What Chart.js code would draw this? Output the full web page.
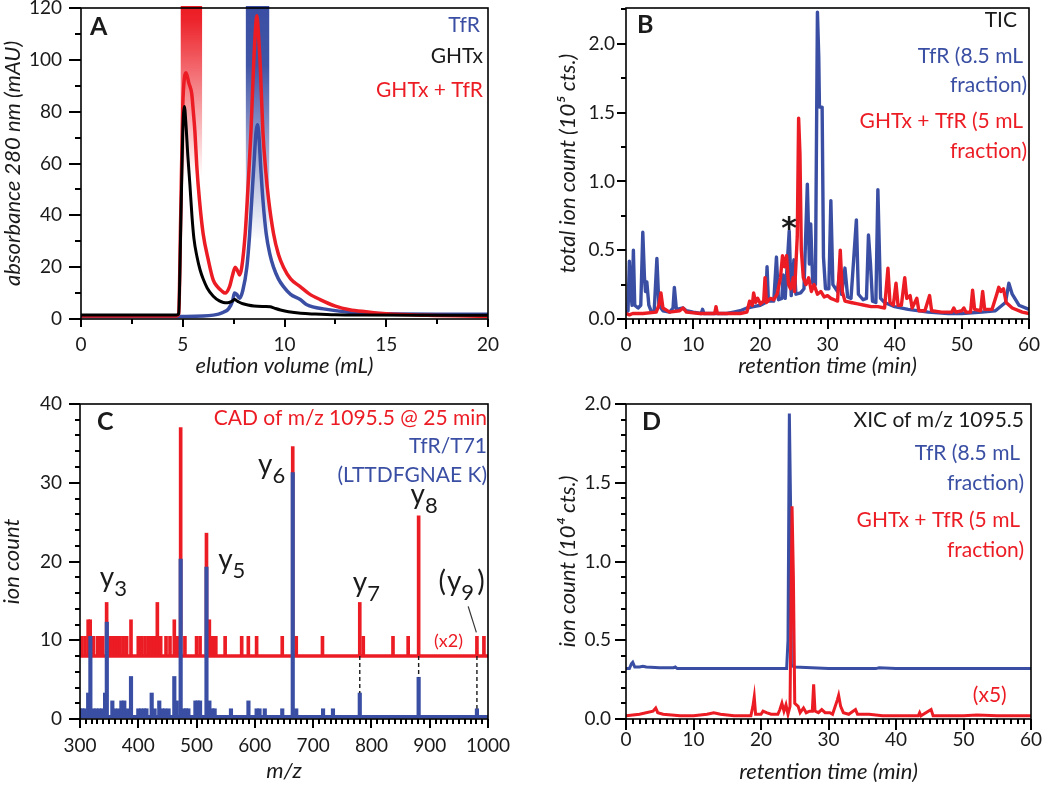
<!DOCTYPE html>
<html>
<head>
<meta charset="utf-8">
<script src="https://cdn.jsdelivr.net/npm/chart.js@4.4.0/dist/chart.umd.min.js"></script>
<style>
  body { margin: 0; background: #fff; }
  #wrap { position: relative; width: 1050px; height: 785px; overflow: hidden; }
  canvas { position: absolute; }
</style>
</head>
<body>
<div id="wrap">
  <canvas id="chartA" width="520" height="390" style="left:0;top:0"></canvas>
  <canvas id="chartB" width="530" height="390" style="left:520px;top:0"></canvas>
  <canvas id="chartC" width="520" height="395" style="left:0;top:390px"></canvas>
  <canvas id="chartD" width="530" height="395" style="left:520px;top:390px"></canvas>
</div>
<script>
// ---- panel A : size exclusion chromatograms ----
var ghtxVol = [0, 4.7, 4.8, 4.9, 5.0, 5.08, 5.15, 5.25, 5.35, 5.45, 5.55, 5.7, 5.85, 6.0, 6.2, 6.5, 6.8, 7.0, 7.2, 7.4, 7.55, 7.7, 7.9, 8.2, 8.5, 9.0, 9.3, 9.5, 9.8, 10.2, 10.8, 11.5, 12.5, 14, 20];
var ghtxAbs = [1.5, 1.5, 2, 35, 72, 82, 76, 63, 52, 40, 31, 24, 19, 15.5, 12, 8.8, 7, 6.4, 6.3, 6.8, 7.5, 6.8, 6, 5.4, 5, 4.8, 4.7, 4.2, 3.5, 2.8, 2.2, 1.9, 1.6, 1.5, 1.4];
var complexVol = [0, 4.7, 4.8, 4.9, 5.0, 5.08, 5.16, 5.3, 5.44, 5.52, 5.6, 5.69, 5.82, 6.0, 6.25, 6.5, 6.7, 6.92, 7.08, 7.3, 7.45, 7.58, 7.7, 7.79, 7.9, 8.07, 8.2, 8.35, 8.48, 8.56, 8.64, 8.72, 8.81, 8.94, 9.08, 9.22, 9.46, 9.7, 9.95, 10.3, 10.77, 11.2, 11.75, 12.5, 13.2, 14, 15, 17, 20];
var complexAbs = [1.2, 1.2, 2, 40, 82, 93, 95, 91, 87, 80, 72, 59, 46, 33, 23, 15, 12.5, 10.8, 10, 12.5, 17, 20, 18.5, 17, 20, 33, 50, 72, 97.5, 110, 117, 110, 97.5, 72, 57, 46, 33, 25, 20, 15.5, 12.5, 9.8, 7.5, 5, 3.6, 2.8, 2, 1.4, 1];
var tfrVol = [0, 4, 6, 6.5, 6.76, 7.0, 7.25, 7.45, 7.54, 7.65, 7.79, 7.95, 8.15, 8.28, 8.39, 8.5, 8.6, 8.67, 8.75, 8.83, 8.94, 9.1, 9.28, 9.46, 9.7, 9.95, 10.3, 10.77, 11.1, 12, 13.5, 15, 20];
var tfrAbs = [1, 1, 1.2, 1.5, 1.9, 2.6, 3.9, 7, 10, 9.5, 8, 11, 20, 32, 46, 60, 72, 75, 70, 58.8, 46, 33, 25, 20, 15.5, 12.5, 9.5, 7.5, 5.5, 3.8, 2.4, 2, 1.8];
var bandStart = [4.9, 8.1];
var bandEnd = [5.95, 9.25];

// ---- panel B : total ion chromatograms ----
var tfrTicTime = [0, 0.3, 0.5, 0.7, 0.9, 1.1, 1.3, 1.8, 2.2, 2.5, 2.75, 2.9, 3.1, 3.4, 3.8, 4.2, 4.6, 4.9, 5.5, 6.5, 7.0, 7.2, 7.5, 8.5, 9, 10, 11.2, 11.4, 11.6, 13, 15, 16, 17, 18, 19, 20, 20.8, 21.0, 21.2, 22, 22.4, 22.7, 23.2, 23.4, 23.7, 24.3, 24.6, 25.0, 25.3, 26.0, 26.5, 27.0, 27.3, 27.5, 27.8, 28.2, 28.5, 28.7, 28.8, 29.2, 29.4, 29.7, 30.2, 30.5, 30.8, 31.5, 31.8, 32.1, 32.6, 33.0, 33.5, 34.3, 34.6, 35.3, 35.8, 36.1, 36.4, 36.7, 37.2, 37.5, 37.9, 38.5, 40, 42, 45, 48, 50, 53, 55, 56.5, 57, 57.5, 58.5, 60];
var tfrTicCounts = [0.05, 0.06, 0.42, 0.2, 0.1, 0.5, 0.1, 0.08, 0.1, 0.63, 0.3, 0.2, 0.27, 0.1, 0.05, 0.06, 0.44, 0.1, 0.06, 0.05, 0.08, 0.23, 0.07, 0.08, 0.06, 0.05, 0.04, 0.07, 0.04, 0.04, 0.04, 0.05, 0.06, 0.08, 0.09, 0.1, 0.12, 0.38, 0.13, 0.13, 0.45, 0.14, 0.15, 0.32, 0.15, 0.64, 0.17, 0.43, 0.18, 0.19, 0.22, 0.98, 0.4, 0.69, 0.26, 0.25, 2.23, 1.9, 1.54, 1.54, 0.45, 0.22, 0.22, 0.86, 0.25, 0.2, 0.34, 0.18, 0.37, 0.16, 0.15, 0.72, 0.18, 0.14, 0.15, 0.61, 0.4, 0.13, 0.12, 0.94, 0.15, 0.12, 0.09, 0.07, 0.05, 0.04, 0.04, 0.05, 0.06, 0.12, 0.26, 0.18, 0.1, 0.07];
var complexTicTime = [0, 0.5, 1, 2.5, 4.5, 4.9, 5.2, 5.5, 6.5, 8.0, 8.5, 9, 11, 13.2, 13.4, 13.6, 15, 17, 18, 18.4, 18.8, 19.0, 19.3, 19.6, 20, 20.5, 20.7, 20.9, 21.5, 22, 22.5, 23.0, 23.3, 23.6, 23.9, 24.2, 24.5, 24.9, 25.1, 25.5, 25.7, 25.9, 26.1, 26.4, 26.8, 27.2, 27.6, 28, 28.5, 29, 29.5, 30, 30.5, 31, 31.5, 31.9, 32.2, 32.6, 33.5, 34.5, 35.5, 36.5, 37.5, 38.5, 39.0, 39.3, 39.8, 40.2, 40.5, 41, 41.5, 41.8, 42.3, 42.6, 43.3, 43.6, 44.5, 45.2, 45.5, 47, 48.5, 48.8, 49.1, 50, 50.3, 50.6, 51.3, 51.6, 51.9, 52.8, 53.1, 53.4, 54.5, 55.2, 55.5, 55.8, 56.2, 56.6, 57.5, 59, 60];
var complexTicCounts = [0.04, 0.03, 0.04, 0.04, 0.05, 0.1, 0.19, 0.08, 0.05, 0.06, 0.08, 0.05, 0.04, 0.04, 0.09, 0.04, 0.04, 0.04, 0.05, 0.13, 0.1, 0.19, 0.12, 0.15, 0.11, 0.13, 0.3, 0.12, 0.15, 0.14, 0.18, 0.3, 0.46, 0.38, 0.46, 0.25, 0.22, 0.3, 0.2, 0.6, 1.46, 1.2, 0.5, 0.3, 0.25, 0.3, 0.2, 0.25, 0.18, 0.2, 0.16, 0.17, 0.15, 0.14, 0.13, 0.5, 0.2, 0.13, 0.12, 0.11, 0.1, 0.09, 0.09, 0.08, 0.37, 0.12, 0.1, 0.26, 0.1, 0.1, 0.3, 0.15, 0.17, 0.08, 0.15, 0.06, 0.06, 0.17, 0.06, 0.05, 0.05, 0.08, 0.05, 0.06, 0.08, 0.05, 0.05, 0.21, 0.07, 0.06, 0.2, 0.07, 0.07, 0.18, 0.23, 0.2, 0.22, 0.12, 0.08, 0.05, 0.04];
var starTime = 24.3, starCount = 0.585;

// ---- panel C : CAD spectrum (red offset, x2) vs TfR/T71 ----
var redBase = 8, blueBase = 0.3;
var cadMz = [303, 308.6, 314, 317.5, 323, 330, 334, 339, 345.7, 351.5, 356, 360, 364, 368.6, 374, 380, 387.5, 400, 405.8, 411.5, 417, 423, 427.5, 432.7, 438.4, 447.6, 454.4, 461.8, 467, 472.7, 480, 500, 506, 517, 521.9, 527.7, 533, 549, 577.4, 588.8, 603, 647, 665, 671, 716, 780, 786, 837, 863, 881, 981, 993];
var cadCount = [10.5, 10.5, 12.6, 12.6, 10.5, 10.5, 10.5, 10.5, 14.8, 10.5, 10.5, 10.5, 10.5, 10.5, 10.5, 10.5, 12.6, 10.5, 10.5, 10.5, 10.5, 10.5, 10.5, 14.8, 10.5, 10.5, 10.5, 12.6, 10.5, 37, 10.5, 10.5, 10.5, 23.6, 12.6, 10.5, 10.5, 10.5, 10.5, 10.5, 10.5, 10.5, 34.6, 10.5, 10.5, 14.8, 10.5, 10.5, 10.5, 25.8, 10.5, 10.5];
var t71Mz = [300, 304, 308, 314, 317.8, 323, 328, 333, 338, 343, 346, 355.5, 360, 366, 371, 376, 381, 387.5, 400, 405, 410, 414, 423, 428, 436, 441, 446, 452, 461.8, 466, 472.7, 478, 482, 486, 498, 502, 506, 517, 522, 527, 531, 559, 589, 603, 608, 617, 647, 665, 671, 717, 734, 780, 881, 981];
var t71Count = [1.3, 1.3, 1.3, 3.3, 10.5, 1.3, 1.3, 1.3, 1.3, 3.3, 12.3, 2.3, 1.3, 1.3, 2.3, 2.3, 1.3, 5.4, 1.3, 1.3, 1.3, 1.3, 3.3, 1.3, 2.3, 1.3, 1.3, 1.3, 5.4, 2.3, 20.3, 1.3, 1.3, 1.3, 2.3, 2.3, 2.3, 19.3, 2.3, 1.3, 1.3, 1.3, 2.3, 1.3, 1.3, 1.3, 1.3, 31.3, 1.3, 1.3, 1.3, 3.3, 5.3, 1.3];
var matchMz = [780, 881, 981];
var ionSub = ['3', '5', '6', '7', '8', '9'];
var ionMz = [334, 537, 605.5, 768, 867, 915];
var ionCount = [16.8, 19.0, 31.1, 16.1, 27.3, 16.3];

// ---- panel D : XIC of m/z 1095.5 ----
var tfrXicTime = [0, 0.5, 0.8, 1.0, 1.3, 2, 2.5, 3, 5, 7, 7.3, 7.6, 15, 20, 23.8, 24.0, 24.2, 24.4, 24.5, 25, 30, 37, 37.5, 40, 50, 57, 61];
var tfrXicCounts = [0.32, 0.32, 0.35, 0.36, 0.33, 0.33, 0.335, 0.33, 0.325, 0.325, 0.33, 0.32, 0.32, 0.32, 0.32, 0.5, 1.94, 1.3, 0.34, 0.33, 0.32, 0.32, 0.325, 0.32, 0.32, 0.32, 0.32];
var complexXicTime = [0, 2, 4, 4.4, 4.7, 5.5, 8, 10, 12, 13, 14, 16, 18.5, 18.8, 19.0, 19.2, 20, 20.3, 20.8, 21.5, 22.5, 22.8, 23.1, 23.4, 23.7, 24.0, 24.3, 24.6, 24.8, 25.0, 25.5, 25.8, 26.3, 26.7, 27.2, 27.6, 27.8, 28.0, 28.5, 29.0, 29.5, 30.2, 30.6, 31.3, 31.5, 31.8, 32.2, 33, 34, 34.3, 35, 36, 38, 40, 43.3, 43.5, 43.7, 45.2, 45.5, 50, 52, 55, 60];
var complexXicCounts = [0.02, 0.03, 0.05, 0.07, 0.04, 0.03, 0.02, 0.02, 0.03, 0.04, 0.03, 0.02, 0.02, 0.08, 0.14, 0.03, 0.03, 0.05, 0.04, 0.03, 0.03, 0.06, 0.1, 0.05, 0.09, 0.03, 0.08, 1.35, 0.9, 0.1, 0.08, 0.04, 0.07, 0.04, 0.05, 0.05, 0.22, 0.05, 0.04, 0.06, 0.04, 0.04, 0.03, 0.12, 0.15, 0.08, 0.04, 0.03, 0.06, 0.03, 0.03, 0.03, 0.02, 0.02, 0.02, 0.04, 0.02, 0.06, 0.02, 0.02, 0.025, 0.02, 0.02];

var BLUE = '#3a4fa3', RED = '#ec1c24', INK = '#1a1a1a';
var FONT = 'Lato, "DejaVu Sans", sans-serif';
Chart.defaults.font.family = FONT;
Chart.defaults.color = INK;
Chart.defaults.animation = false;

function pts(xs, ys) {
  return xs.map(function(x, i) { return { x: x, y: ys[i] }; });
}
function onStep(v, step) {
  return Math.abs(v / step - Math.round(v / step)) < 1e-6;
}
function stepValues(min, max, step) {
  var out = [];
  for (var i = 0; min + i * step <= max + 1e-9; i++) out.push(min + i * step);
  return out;
}

// labels and titles from Chart.js; every tick mark (major and minor) drawn by panelDeco
function xAxis(o) {
  return {
    type: 'linear', min: o.min, max: o.max, offset: false,
    grid: { display: false, drawTicks: false, offset: false },
    border: { display: false },
    ticks: { stepSize: o.step, padding: o.pad, font: { size: 19 }, color: INK, maxRotation: 0, autoSkip: false, includeBounds: false,
             callback: o.fmt || function(v) { return String(v); } },
    afterBuildTicks: function(s) { s.ticks = s.ticks.filter(function(t) { return onStep(t.value, o.step); }); },
    title: { display: true, text: o.title, color: INK, font: { size: 22, style: 'italic' }, padding: { top: 0, bottom: o.tpad } },
    afterFit: function(s) { s.height = o.size; s.paddingLeft = 0; s.paddingRight = 0; }
  };
}
function yAxis(o) {
  return {
    type: 'linear', min: o.min, max: o.max,
    grid: { display: false, drawTicks: false },
    border: { display: false },
    ticks: { stepSize: o.step, padding: o.pad, font: { size: 19 }, color: INK, autoSkip: false, includeBounds: false,
             callback: o.fmt || function(v) { return String(v); } },
    afterBuildTicks: function(s) { s.ticks = s.ticks.filter(function(t) { return onStep(t.value, o.step); }); },
    title: { display: true, text: o.title, color: INK, font: { size: 22, style: 'italic' }, padding: { top: o.tpad, bottom: 0 } },
    afterFit: function(s) { s.width = o.size; s.paddingTop = 0; s.paddingBottom = 0; }
  };
}

// per-panel decoration settings, looked up by canvas id
var deco = {};

function drawTicks(chart, o) {
  var ctx = chart.ctx, a = chart.chartArea, xs = chart.scales.x, ys = chart.scales.y;
  var bottom = Math.round(a.bottom), left = Math.round(a.left);
  ctx.fillStyle = '#000';
  stepValues(o.xMin, o.xMax, o.xMinor).forEach(function(v) {
    var len = onStep(v, o.xMajor) ? o.xMajorLen : o.xMinorLen;
    ctx.fillRect(Math.round(xs.getPixelForValue(v)) - 1, bottom, 2, len);
  });
  stepValues(o.yMin, o.yMax, o.yMinor).forEach(function(v) {
    var len = onStep(v, o.yMajor) ? o.yMajorLen : o.yMinorLen;
    ctx.fillRect(left - len, Math.round(ys.getPixelForValue(v)) - 1, len, 2);
  });
}

// frame, tick marks, panel letter, legend texts
var panelDeco = {
  id: 'panelDeco',
  beforeDatasetsDraw: function(chart) {
    var o = deco[chart.canvas.id];
    if (o && o.before) o.before(chart, chart.ctx);
  },
  afterDraw: function(chart) {
    var o = deco[chart.canvas.id];
    if (!o) return;
    var ctx = chart.ctx, a = chart.chartArea;
    ctx.save();
    ctx.setLineDash([]);
    ctx.globalAlpha = 1;
    ctx.globalCompositeOperation = 'source-over';
    ctx.strokeStyle = '#000';
    ctx.lineWidth = 1.6;
    ctx.strokeRect(a.left, a.top, a.right - a.left, a.bottom - a.top);
    drawTicks(chart, o);

    ctx.textBaseline = 'alphabetic';
    ctx.textAlign = 'left';
    ctx.fillStyle = INK;
    ctx.font = 'bold 25px ' + FONT;
    ctx.fillText(o.letter, a.left + o.letterDx, a.top + o.letterDy);

    ctx.textAlign = 'right';
    ctx.font = '21px ' + FONT;
    o.lines.forEach(function(l) {
      ctx.fillStyle = l.color;
      ctx.fillText(l.text, a.right - l.inset, a.top + l.dy);
    });
    if (o.after) o.after(chart, ctx);
    ctx.restore();
  }
};
Chart.register(panelDeco);

function baseOptions(pad) {
  return {
    responsive: false,
    devicePixelRatio: 1,
    layout: { padding: pad },
    elements: { point: { radius: 0 } },
    plugins: { legend: { display: false }, tooltip: { enabled: false } }
  };
}

// ---------- A ----------
var optA = baseOptions({ top: 8, right: 32, bottom: 0, left: 0 });
optA.scales = {
  x: xAxis({ min: 0, max: 20, step: 5, pad: 14, size: 71, tpad: 11, title: 'elution volume (mL)' }),
  y: yAxis({ min: 0, max: 120, step: 20, pad: 19, size: 81, tpad: 0, title: 'absorbance 280 nm (mAU)' })
};
deco.chartA = {
  letter: 'A', letterDx: 9, letterDy: 27,
  xMin: 0, xMax: 20, xMajor: 5, xMinor: 2.5, xMajorLen: 8, xMinorLen: 5,
  yMin: 0, yMax: 120, yMajor: 20, yMinor: 10, yMajorLen: 12, yMinorLen: 6,
  lines: [
    { text: 'TfR', color: BLUE, inset: 8, dy: 24 },
    { text: 'GHTx', color: INK, inset: 5, dy: 55 },
    { text: 'GHTx + TfR', color: RED, inset: 5, dy: 89 }
  ],
  before: function(chart, ctx) {
    var xs = chart.scales.x, ys = chart.scales.y, a = chart.chartArea;
    var fills = [
      { rgb: '236,28,36', fadeTo: 55, hold: 0.08 },
      { rgb: '58,79,163', fadeTo: 30, hold: 0.25 }
    ];
    ctx.save();
    bandStart.forEach(function(s, i) {
      var x0 = xs.getPixelForValue(s), x1 = xs.getPixelForValue(bandEnd[i]);
      var top = a.top - 2, bot = ys.getPixelForValue(fills[i].fadeTo);
      var g = ctx.createLinearGradient(0, top, 0, bot);
      g.addColorStop(0, 'rgba(' + fills[i].rgb + ',1)');
      g.addColorStop(fills[i].hold, 'rgba(' + fills[i].rgb + ',0.97)');
      g.addColorStop(1, 'rgba(' + fills[i].rgb + ',0)');
      ctx.fillStyle = g;
      ctx.fillRect(x0, top, x1 - x0, bot - top);
    });
    ctx.restore();
  }
};
new Chart(document.getElementById('chartA'), {
  type: 'line',
  data: {
    datasets: [
      { label: 'GHTx', data: pts(ghtxVol, ghtxAbs), borderColor: '#000', borderWidth: 3, cubicInterpolationMode: 'monotone', order: 0 },
      { label: 'GHTx + TfR', data: pts(complexVol, complexAbs), borderColor: RED, borderWidth: 3.5, cubicInterpolationMode: 'monotone', order: 1 },
      { label: 'TfR', data: pts(tfrVol, tfrAbs), borderColor: BLUE, borderWidth: 3.5, cubicInterpolationMode: 'monotone', order: 2 }
    ]
  },
  options: optA
});

// ---------- B ----------
var optB = baseOptions({ top: 8, right: 21, bottom: 0, left: 0 });
optB.scales = {
  x: xAxis({ min: 0, max: 60, step: 10, pad: 14, size: 71, tpad: 11, title: 'retention time (min)' }),
  y: yAxis({ min: 0, max: 2.26, step: 0.5, pad: 11, size: 106, tpad: 35, title: 'total ion count (10\u2075 cts.)',
             fmt: function(v) { return v.toFixed(1); } })
};
deco.chartB = {
  letter: 'B', letterDx: 11, letterDy: 25,
  xMin: 0, xMax: 60, xMajor: 10, xMinor: 1, xMajorLen: 10, xMinorLen: 5,
  yMin: 0, yMax: 2.25, yMajor: 0.5, yMinor: 0.25, yMajorLen: 9, yMinorLen: 5,
  lines: [
    { text: 'TIC', color: INK, inset: 12, dy: 19 },
    { text: 'TfR (8.5 mL', color: BLUE, inset: 6, dy: 55 },
    { text: 'fraction)', color: BLUE, inset: 2, dy: 84 },
    { text: 'GHTx + TfR (5 mL', color: RED, inset: 6, dy: 120 },
    { text: 'fraction)', color: RED, inset: 2, dy: 150 }
  ],
  after: function(chart, ctx) {
    ctx.font = 'bold 30px "DejaVu Sans", sans-serif';
    ctx.textAlign = 'center';
    ctx.fillStyle = INK;
    ctx.fillText('*', chart.scales.x.getPixelForValue(starTime), chart.scales.y.getPixelForValue(starCount));
  }
};
new Chart(document.getElementById('chartB'), {
  type: 'line',
  data: {
    datasets: [
      { label: 'GHTx + TfR', data: pts(complexTicTime, complexTicCounts), borderColor: RED, borderWidth: 3.4, borderJoinStyle: 'round', order: 0 },
      { label: 'TfR', data: pts(tfrTicTime, tfrTicCounts), borderColor: BLUE, borderWidth: 3.4, borderJoinStyle: 'round', order: 1 }
    ]
  },
  options: optB
});

// ---------- C ----------
var optC = baseOptions({ top: 14, right: 32, bottom: 0, left: 0 });
optC.scales = {
  x: xAxis({ min: 300, max: 1000, step: 100, pad: 15, size: 66, tpad: 1, title: 'm/z' }),
  y: yAxis({ min: 0, max: 40, step: 10, pad: 18, size: 80, tpad: -1, title: 'ion count' })
};
function drawIon(ctx, x, y, sub, paren) {
  ctx.font = '28px ' + FONT;
  var px = x;
  if (paren) { ctx.fillText('(', px, y); px += ctx.measureText('(').width + 1; }
  ctx.fillText('y', px, y);
  px += ctx.measureText('y').width;
  ctx.font = '22px ' + FONT;
  ctx.fillText(sub, px, y + 9);
  px += ctx.measureText(sub).width;
  if (paren) { ctx.font = '28px ' + FONT; ctx.fillText(')', px + 3, y); }
}
deco.chartC = {
  letter: 'C', letterDx: 17, letterDy: 26,
  xMin: 300, xMax: 1000, xMajor: 100, xMinor: 10, xMajorLen: 9, xMinorLen: 5,
  yMin: 0, yMax: 40, yMajor: 10, yMinor: 2, yMajorLen: 11, yMinorLen: 5,
  lines: [
    { text: 'CAD of m/z 1095.5 @ 25 min', color: RED, inset: 1, dy: 21 },
    { text: 'TfR/T71', color: BLUE, inset: 1, dy: 48.7 },
    { text: '(LTTDFGNAE K)', color: BLUE, inset: 1, dy: 77.7 }
  ],
  after: function(chart, ctx) {
    var xs = chart.scales.x, ys = chart.scales.y;
    ctx.textAlign = 'left';
    ctx.fillStyle = INK;
    ionSub.forEach(function(s, i) {
      drawIon(ctx, xs.getPixelForValue(ionMz[i]), ys.getPixelForValue(ionCount[i]), s, s === '9');
    });
    ctx.font = '18px ' + FONT;
    ctx.textAlign = 'right';
    ctx.fillStyle = RED;
    ctx.fillText('(x2)', xs.getPixelForValue(957), ys.getPixelForValue(9.2));
  }
};
var dashPts = [], pointerPts = [{ x: 966, y: 14.3 }, { x: 980, y: 11.0 }];
matchMz.forEach(function(m) {
  dashPts.push({ x: m, y: redBase }, { x: m, y: t71Count[t71Mz.indexOf(m)] }, { x: m + 0.5, y: null });
});
new Chart(document.getElementById('chartC'), {
  type: 'bar',
  data: {
    datasets: [
      { type: 'line', label: 'match', data: dashPts, borderColor: INK, borderWidth: 1.4, borderDash: [4, 3], spanGaps: false, order: 0 },
      { type: 'line', label: 'pointer', data: pointerPts, borderColor: '#333', borderWidth: 1.2, order: 0 },
      { label: 'TfR/T71', data: t71Mz.map(function(m, i) { return { x: m, y: [blueBase, t71Count[i]] }; }),
        backgroundColor: BLUE, barThickness: 3.5, grouped: false, order: 1 },
      { type: 'line', label: 'T71 base', data: [{ x: 300, y: blueBase }, { x: 1000, y: blueBase }], borderColor: BLUE, borderWidth: 3.5, order: 2 },
      { type: 'line', label: 'CAD base', data: [{ x: 300, y: redBase }, { x: 1000, y: redBase }], borderColor: RED, borderWidth: 3.5, order: 3 },
      { label: 'CAD', data: cadMz.map(function(m, i) { return { x: m, y: [redBase, cadCount[i]] }; }),
        backgroundColor: RED, barThickness: 3, grouped: false, order: 4 }
    ]
  },
  options: optC
});

// ---------- D ----------
var optD = baseOptions({ top: 14, right: 19, bottom: 0, left: 0 });
optD.scales = {
  x: xAxis({ min: 0, max: 60, step: 10, pad: 9, size: 66, tpad: 0, title: 'retention time (min)' }),
  y: yAxis({ min: 0, max: 2.0, step: 0.5, pad: 15, size: 106, tpad: 35, title: 'ion count (10\u2074 cts.)',
             fmt: function(v) { return v.toFixed(1); } })
};
deco.chartD = {
  letter: 'D', letterDx: 16, letterDy: 26,
  xMin: 0, xMax: 60, xMajor: 10, xMinor: 1, xMajorLen: 11, xMinorLen: 5,
  yMin: 0, yMax: 2.0, yMajor: 0.5, yMinor: 0.1, yMajorLen: 11, yMinorLen: 5,
  lines: [
    { text: 'XIC of m/z 1095.5', color: INK, inset: 7, dy: 22.7 },
    { text: 'TfR (8.5 mL', color: BLUE, inset: 11, dy: 56 },
    { text: 'fraction)', color: BLUE, inset: 7, dy: 86 },
    { text: 'GHTx + TfR (5 mL', color: RED, inset: 11, dy: 122.7 },
    { text: 'fraction)', color: RED, inset: 7, dy: 152.7 }
  ],
  after: function(chart, ctx) {
    ctx.font = '21px ' + FONT;
    ctx.textAlign = 'right';
    ctx.fillStyle = RED;
    ctx.fillText('(x5)', chart.scales.x.getPixelForValue(56.4), chart.scales.y.getPixelForValue(0.11));
  }
};
new Chart(document.getElementById('chartD'), {
  type: 'line',
  data: {
    datasets: [
      { label: 'GHTx + TfR', data: pts(complexXicTime, complexXicCounts), borderColor: RED, borderWidth: 3, order: 0 },
      { label: 'TfR', data: pts(tfrXicTime, tfrXicCounts), borderColor: BLUE, borderWidth: 3, order: 1 }
    ]
  },
  options: optD
});
</script>
</body>
</html>
